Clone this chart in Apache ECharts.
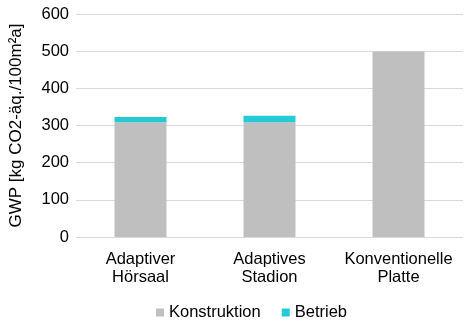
<!DOCTYPE html>
<html><head><meta charset="utf-8">
<script src="https://cdn.jsdelivr.net/npm/echarts@6/dist/echarts.min.js"></script>
<style>html,body{margin:0;padding:0;background:#fff}#c{width:472px;height:324px}</style>
</head><body><div id="c"></div>
<script>
const categories = ['Adaptiver\nHörsaal', 'Adaptives\nStadion', 'Konventionelle\nPlatte'];
const konstruktion = [309, 309, 499];
const betrieb = [14, 17, 0];
const yTicks = { min: 0, max: 600, interval: 100 };

const font = 'Liberation Sans, Arial, sans-serif';
const fs = 16.5;
const chart = echarts.init(document.getElementById('c'), null, { renderer: 'canvas' });
chart.setOption({
  animation: false,
  textStyle: { fontFamily: font },
  grid: { left: 75, right: 9, top: 14, bottom: 87, containLabel: false },
  legend: {
    top: 304, left: 156, itemWidth: 8, itemHeight: 8, itemGap: 21, padding: 0,
    icon: 'rect',
    textStyle: { fontFamily: font, fontSize: fs, color: '#000' },
    data: ['Konstruktion', 'Betrieb']
  },
  xAxis: {
    type: 'category', data: categories,
    axisLine: { show: false }, axisTick: { show: false },
    axisLabel: { interval: 0, fontFamily: font, fontSize: fs, color: '#000', lineHeight: 18, margin: 13 }
  },
  yAxis: {
    type: 'value', min: yTicks.min, max: yTicks.max, interval: yTicks.interval,
    name: 'GWP [kg CO2-äq./100m²a]', nameLocation: 'middle', nameGap: 51,
    nameTextStyle: { fontFamily: font, fontSize: 17, color: '#000' },
    axisLine: { show: false }, axisTick: { show: false },
    axisLabel: { fontFamily: font, fontSize: fs, color: '#000', margin: 7 },
    splitLine: { lineStyle: { color: '#d9d9d9', width: 1 } }
  },
  series: [
    { name: 'Konstruktion', type: 'bar', stack: 'g', data: konstruktion, barWidth: 52,
      itemStyle: { color: '#bfbfbf' } },
    { name: 'Betrieb', type: 'bar', stack: 'g', data: betrieb, barWidth: 52,
      itemStyle: { color: '#25cbd4' } }
  ]
});
</script></body></html>
